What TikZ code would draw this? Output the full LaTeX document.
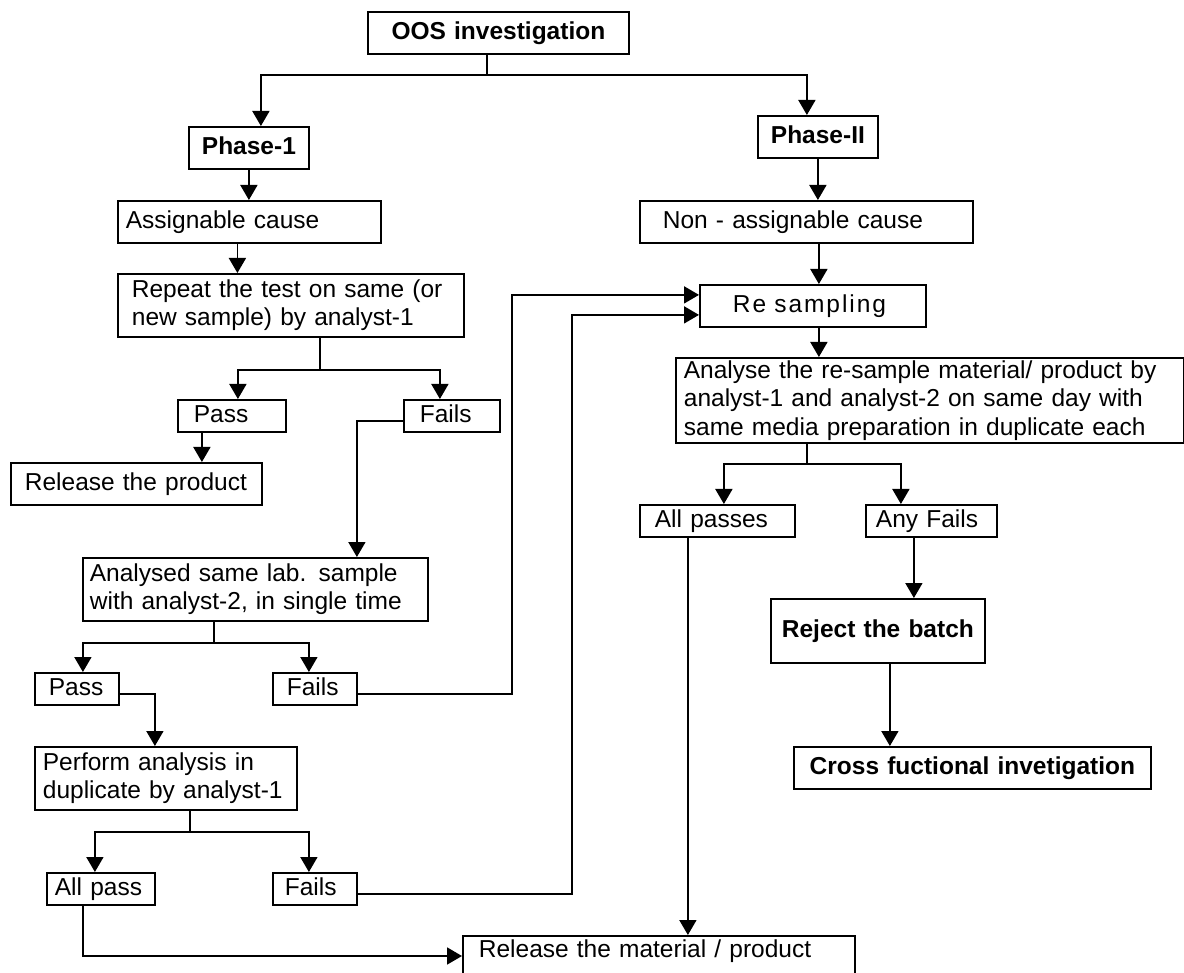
\documentclass[tikz,border=0pt]{standalone}
\usepackage{fontspec}
\setmainfont{Liberation Sans}
\usetikzlibrary{arrows.meta}

\begin{document}
\begin{tikzpicture}[
  x=1pt, y=-1pt,
  box/.style={draw, line width=1.8pt, anchor=north west, inner ysep=0pt,
    align=left, font=\fontsize{24.5}{28.5}\selectfont},
  oneline/.style={text height=18pt, text depth=5pt},
  head/.style={box, oneline, align=center, inner xsep=4pt,
    font=\fontsize{24.5}{28.5}\selectfont\bfseries},
  link/.style={line width=1.8pt},
  arr/.style={link, -{Triangle[width=17pt,length=15pt]}},
]
  \useasboundingbox (0,0) rectangle (1184,973);

  % Top and the two phases
  \node[head, text width=253pt, minimum height=42pt] (oos) at (367,11) {OOS investigation};
  \node[head, text width=112pt, minimum height=42pt] (ph1) at (188,126) {Phase-1};
  \node[head, text width=112pt, minimum height=42pt] (ph2) at (757,115) {Phase-II};

  % Phase 1 column
  \node[box, oneline, text width=247pt, inner xsep=8pt, minimum height=42pt] (assign) at (117,200) {Assignable cause};
  \node[box, text width=318pt, inner xsep=14pt, minimum height=63pt] (repeat) at (117,273)
    {Repeat the test on same (or\\new sample) by analyst-1};
  \node[box, oneline, text width=76pt, inner xsep=16pt, minimum height=32pt] (pass1) at (177,399) {Pass};
  \node[box, oneline, text width=64pt, inner xsep=16pt, minimum height=32pt] (fails1) at (403,399) {Fails};
  \node[box, oneline, text width=223pt, inner xsep=14pt, minimum height=42pt] (relprod) at (10,462) {Release the product};
  \node[box, text width=331pt, inner xsep=7pt, minimum height=63pt] (analysed) at (82,557)
    {Analysed same lab. sample\\with analyst-2, in single time};
  \node[box, oneline, text width=56pt, inner xsep=14pt, minimum height=32pt] (pass2) at (34,672) {Pass};
  \node[box, oneline, text width=56pt, inner xsep=14pt, minimum height=32pt] (fails2) at (272,672) {Fails};
  \node[box, text width=246pt, inner xsep=8pt, minimum height=63pt] (perform) at (34,746)
    {Perform analysis in\\duplicate by analyst-1};
  \node[box, oneline, text width=92pt, inner xsep=8pt, minimum height=32pt] (allpass) at (46,872) {All pass};
  \node[box, oneline, text width=60pt, inner xsep=12pt, minimum height=32pt] (fails3) at (272,872) {Fails};
  \node[box, text width=360pt, inner xsep=16pt, inner ysep=4pt, text depth=24pt] (relmat) at (462,935)
    {Release the material / product};

  % Phase 2 column
  \node[box, oneline, text width=287pt, inner xsep=23pt, minimum height=42pt] (nonassign) at (639,200) {Non - assignable cause};
  \node[box, oneline, text width=160pt, inner xsep=33pt, minimum height=42pt] (resamp) at (699,284)
    {\addfontfeature{LetterSpace=8}Re sampling};
  \node[box, text width=492pt, inner xsep=8pt, minimum height=85pt] (analyse) at (675,357)
    {Analyse the re-sample material/ product by\\analyst-1 and analyst-2 on same day with\\same media preparation in duplicate each};
  \node[box, oneline, text width=125pt, inner xsep=15pt, minimum height=32pt] (allpasses) at (639,504) {All passes};
  \node[box, oneline, text width=111pt, inner xsep=10pt, minimum height=32pt] (anyfails) at (865,504) {Any Fails};
  \node[head, text width=206pt, minimum height=64pt] (reject) at (770,598) {Reject the batch};
  \node[head, text width=349pt, minimum height=42pt] (cross) at (793,746) {Cross fuctional invetigation};

  % Phase split
  \coordinate (j1) at ([xshift=-11.5pt, yshift=-20pt]oos.south);
  \draw[link] (oos.south -| j1) -- (j1);
  \draw[arr] (j1) -| ([xshift=12pt]ph1.north);
  \draw[arr] (j1) -| ([xshift=-11pt]ph2.north);

  % Phase 1 links
  \draw[arr] (ph1.south) -- (ph1.south |- assign.north);
  \draw[arr] ([xshift=-12pt]assign.south) -- ([xshift=-12pt]assign.south |- repeat.north);
  \coordinate (j2) at ([xshift=29pt, yshift=-32pt]repeat.south);
  \draw[link] (repeat.south -| j2) -- (j2);
  \draw[arr] (j2) -| ([xshift=6pt]pass1.north);
  \draw[arr] (j2) -| ([xshift=-12pt]fails1.north);
  \draw[arr] ([xshift=-30pt]pass1.south) -- ([xshift=-30pt]pass1.south |- relprod.north);
  \draw[arr] ([yshift=-5pt]fails1.west) -| ([xshift=101.5pt]analysed.north);
  \coordinate (j3) at ([xshift=-41.5pt, yshift=-21pt]analysed.south);
  \draw[link] (analysed.south -| j3) -- (j3);
  \draw[arr] (j3) -| ([xshift=6pt]pass2.north);
  \draw[arr] (j3) -| ([xshift=-6pt]fails2.north);
  \draw[arr] ([yshift=-5pt]pass2.east) -| ([xshift=-11pt]perform.north);
  \coordinate (r1) at ([xshift=154pt]fails2.east);
  \draw[arr] ([yshift=-5pt]fails2.east) -| ([yshift=11pt]resamp.west -| r1) -- ([yshift=11pt]resamp.west);
  \coordinate (j4) at ([xshift=24pt, yshift=-21pt]perform.south);
  \draw[link] (perform.south -| j4) -- (j4);
  \draw[arr] (j4) -| ([xshift=-6pt]allpass.north);
  \draw[arr] (j4) -| ([xshift=-6pt]fails3.north);
  \coordinate (r2) at ([xshift=214pt]fails3.east);
  \draw[arr] ([yshift=-5pt]fails3.east) -| ([yshift=-9pt]resamp.west -| r2) -- ([yshift=-9pt]resamp.west);
  \draw[arr] ([xshift=-18pt]allpass.south) |- ([yshift=-21pt]relmat.north west);

  % Phase 2 links
  \draw[arr] (ph2.south) -- (ph2.south |- nonassign.north);
  \draw[arr] ([xshift=12.5pt]nonassign.south) -- ([xshift=12.5pt]nonassign.south |- resamp.north);
  \draw[arr] ([xshift=6pt]resamp.south) -- ([xshift=6pt]resamp.south |- analyse.north);
  \coordinate (j5) at ([xshift=-123pt, yshift=-20pt]analyse.south);
  \draw[link] (analyse.south -| j5) -- (j5);
  \draw[arr] (j5) -| ([xshift=6.5pt]allpasses.north);
  \draw[arr] (j5) -| ([xshift=-30.5pt]anyfails.north);
  \draw[arr] ([xshift=-17.5pt]anyfails.south) -- ([xshift=-17.5pt]anyfails.south |- reject.north);
  \draw[arr] ([xshift=12pt]reject.south) -- ([xshift=12pt]reject.south |- cross.north);
  \draw[arr] ([xshift=-29.5pt]allpasses.south) -- ([xshift=-29.5pt]allpasses.south |- relmat.north);

\end{tikzpicture}
\end{document}
